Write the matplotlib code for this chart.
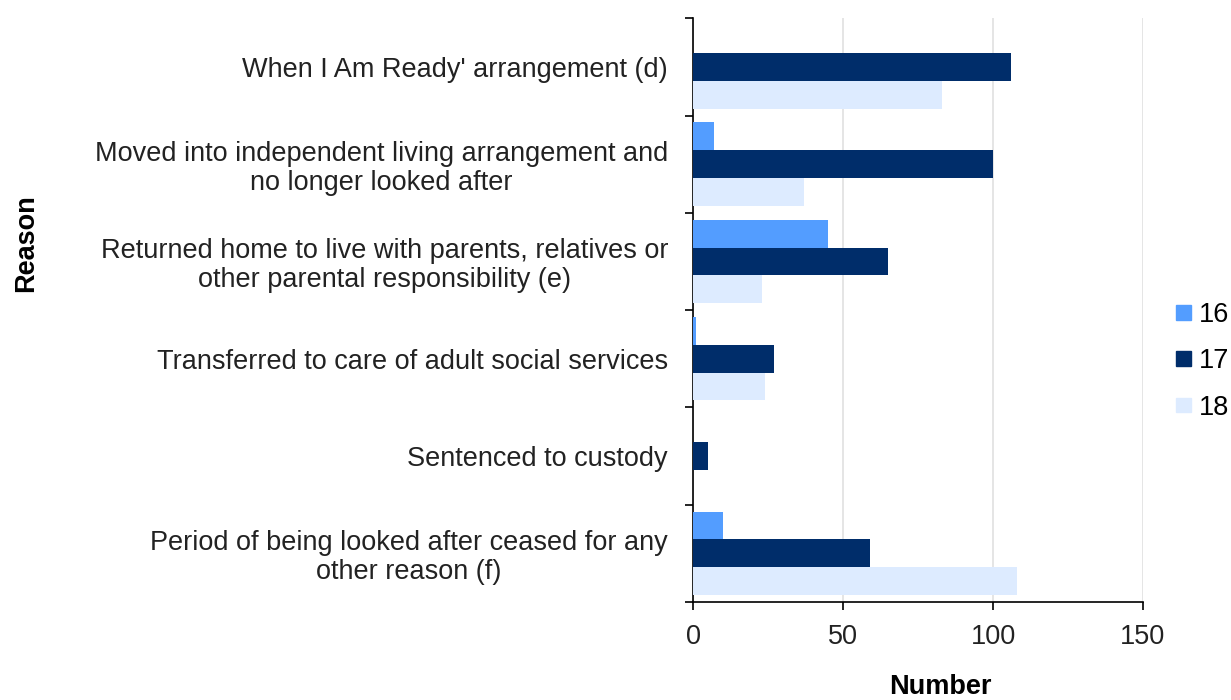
import numpy as np
import matplotlib
matplotlib.use("Agg")
from matplotlib import pyplot as plt
from matplotlib.patches import Patch

plt.rcParams["font.family"] = ["Liberation Sans", "DejaVu Sans"]

reasons = [
    "When I Am Ready' arrangement (d)",
    "Moved into independent living arrangement and\nno longer looked after",
    "Returned home to live with parents, relatives or\nother parental responsibility (e)",
    "Transferred to care of adult social services",
    "Sentenced to custody",
    "Period of being looked after ceased for any\nother reason (f)",
]
ages = ["16", "17", "18"]
age16 = [0, 7, 45, 1, 0, 10]
age17 = [106, 100, 65, 27, 5, 59]
age18 = [83, 37, 23, 24, 0, 108]
colors = ["#539DFF", "#002D6A", "#DDEBFF"]
fs = 19.5

fig = plt.figure(figsize=(12.31, 7), dpi=100)
ax = fig.add_axes([0.563, 0.14, 0.3655, 0.834])

y = np.arange(len(reasons))
h = 0.286
for k, (vals, c) in enumerate(zip([age16, age17, age18], colors)):
    ax.barh(y + (k - 1) * h, vals, height=h, color=c, zorder=3)

ax.set_ylim(len(reasons) - 0.5, -0.5)
ax.set_xlim(0, 150)
ax.set_xticks([0, 50, 100, 150])
ax.set_yticks(np.arange(len(reasons) + 1) - 0.5, minor=False)
ax.set_yticklabels([])
ax.set_yticks(y, minor=True)
ax.set_yticklabels(reasons, minor=True, color="#222222", fontsize=fs,
                   multialignment="center", linespacing=1.15)
ax.tick_params(axis="y", which="minor", length=0, pad=18)
ax.tick_params(axis="y", which="major", length=6, width=1.2)
ax.tick_params(axis="x", length=6, width=1.2, labelsize=fs, labelcolor="#222222", pad=10)
ax.grid(axis="x", color="#e0e0e0", linewidth=1.2, zorder=0)

for s in ["top", "right"]:
    ax.spines[s].set_visible(False)
for s in ["left", "bottom"]:
    ax.spines[s].set_linewidth(1.2)

ax.set_xlabel("Number", fontsize=fs, fontweight="bold")
ax.xaxis.set_label_coords(0.549, -0.124)
fig.text(0.021, 0.653, "Reason", rotation=90, fontsize=fs, fontweight="bold",
         ha="center", va="center")

handles = [Patch(color=c) for c in colors]
fig.legend(handles, ages, loc="center left", bbox_to_anchor=(0.955, 0.484),
           frameon=False, fontsize=fs, handlelength=0.55, handleheight=0.45,
           handletextpad=0.3, labelspacing=0.75, borderaxespad=0, borderpad=0)

fig.savefig("out.png", dpi=100)
